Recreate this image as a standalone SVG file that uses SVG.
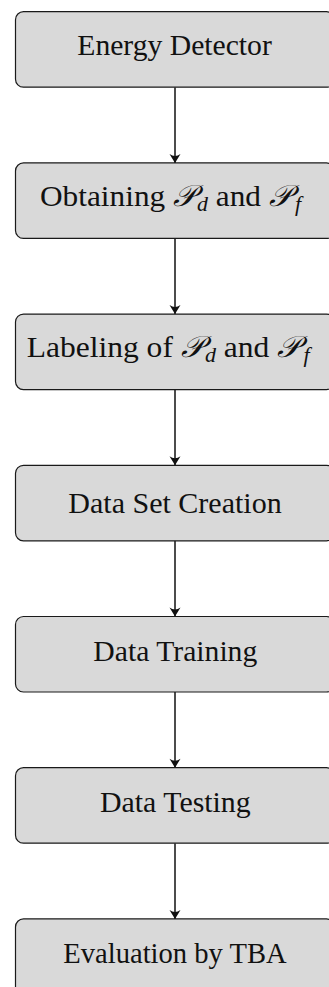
<svg xmlns="http://www.w3.org/2000/svg" width="329" height="987" viewBox="0 0 329 987">
  <style>
    .box { fill: #d9d9d9; stroke: #1a1a1a; stroke-width: 1.2; }
    .lbl { font-family: "Liberation Serif", "DejaVu Serif", serif; font-size: 30px; fill: #111; }
    .m { font-style: italic; }
    .sub { font-family: "Liberation Serif", serif; font-style: italic; font-size: 21px; }
    .edge { stroke: #111; stroke-width: 1.5; fill: none; marker-end: url(#head); }
  </style>
  <defs>
    <marker id="head" viewBox="-10 -6 11 12" markerWidth="11" markerHeight="12" refX="0" refY="0" markerUnits="userSpaceOnUse" orient="auto" overflow="visible">
      <path d="M0,0 L-9,-5.5 Q-5,0 -9,5.5 Z" fill="#111"/>
    </marker>
  </defs>

  <!-- connectors -->
  <g id="connectors">
    <line class="edge" x1="175" y1="87.2" x2="175" y2="162.9"/>
    <line class="edge" x1="175" y1="238.4" x2="175" y2="314.1"/>
    <line class="edge" x1="175" y1="389.6" x2="175" y2="465.3"/>
    <line class="edge" x1="175" y1="540.8" x2="175" y2="616.5"/>
    <line class="edge" x1="175" y1="692" x2="175" y2="767.7"/>
    <line class="edge" x1="175" y1="843.2" x2="175" y2="918.9"/>
  </g>

  <g id="energy-detector">
    <rect class="box" x="15.5" y="11.7" width="319" height="75.5" rx="8"/>
    <text class="lbl" x="77.3" y="55.2" textLength="194.5" lengthAdjust="spacingAndGlyphs">Energy Detector</text>
  </g>

  <g id="obtaining">
    <rect class="box" x="15.5" y="162.9" width="319" height="75.5" rx="8"/>
    <text class="lbl" x="40" y="205.9" textLength="261" lengthAdjust="spacingAndGlyphs">Obtaining <tspan class="m">𝒫</tspan><tspan class="sub" dx="1" dy="5">d</tspan><tspan dy="-5"> and </tspan><tspan class="m">𝒫</tspan><tspan class="sub" dx="3" dy="5">f</tspan></text>
  </g>

  <g id="labeling">
    <rect class="box" x="15.5" y="314.1" width="319" height="75.5" rx="8"/>
    <text class="lbl" x="26.7" y="357.1" textLength="283" lengthAdjust="spacingAndGlyphs">Labeling of <tspan class="m">𝒫</tspan><tspan class="sub" dx="1" dy="5">d</tspan><tspan dy="-5"> and </tspan><tspan class="m">𝒫</tspan><tspan class="sub" dx="3" dy="5">f</tspan></text>
  </g>

  <g id="data-set-creation">
    <rect class="box" x="15.5" y="465.3" width="319" height="75.5" rx="8"/>
    <text class="lbl" x="68.3" y="512.8" textLength="213.4" lengthAdjust="spacingAndGlyphs">Data Set Creation</text>
  </g>

  <g id="data-training">
    <rect class="box" x="15.5" y="616.5" width="319" height="75.5" rx="8"/>
    <text class="lbl" x="93.3" y="661" textLength="164" lengthAdjust="spacingAndGlyphs">Data Training</text>
  </g>

  <g id="data-testing">
    <rect class="box" x="15.5" y="767.7" width="319" height="75.5" rx="8"/>
    <text class="lbl" x="100" y="812.2" textLength="150.7" lengthAdjust="spacingAndGlyphs">Data Testing</text>
  </g>

  <g id="evaluation">
    <rect class="box" x="15.5" y="918.9" width="319" height="75.5" rx="8"/>
    <text class="lbl" x="63.3" y="962.9" textLength="223.4" lengthAdjust="spacingAndGlyphs">Evaluation by TBA</text>
  </g>
</svg>
